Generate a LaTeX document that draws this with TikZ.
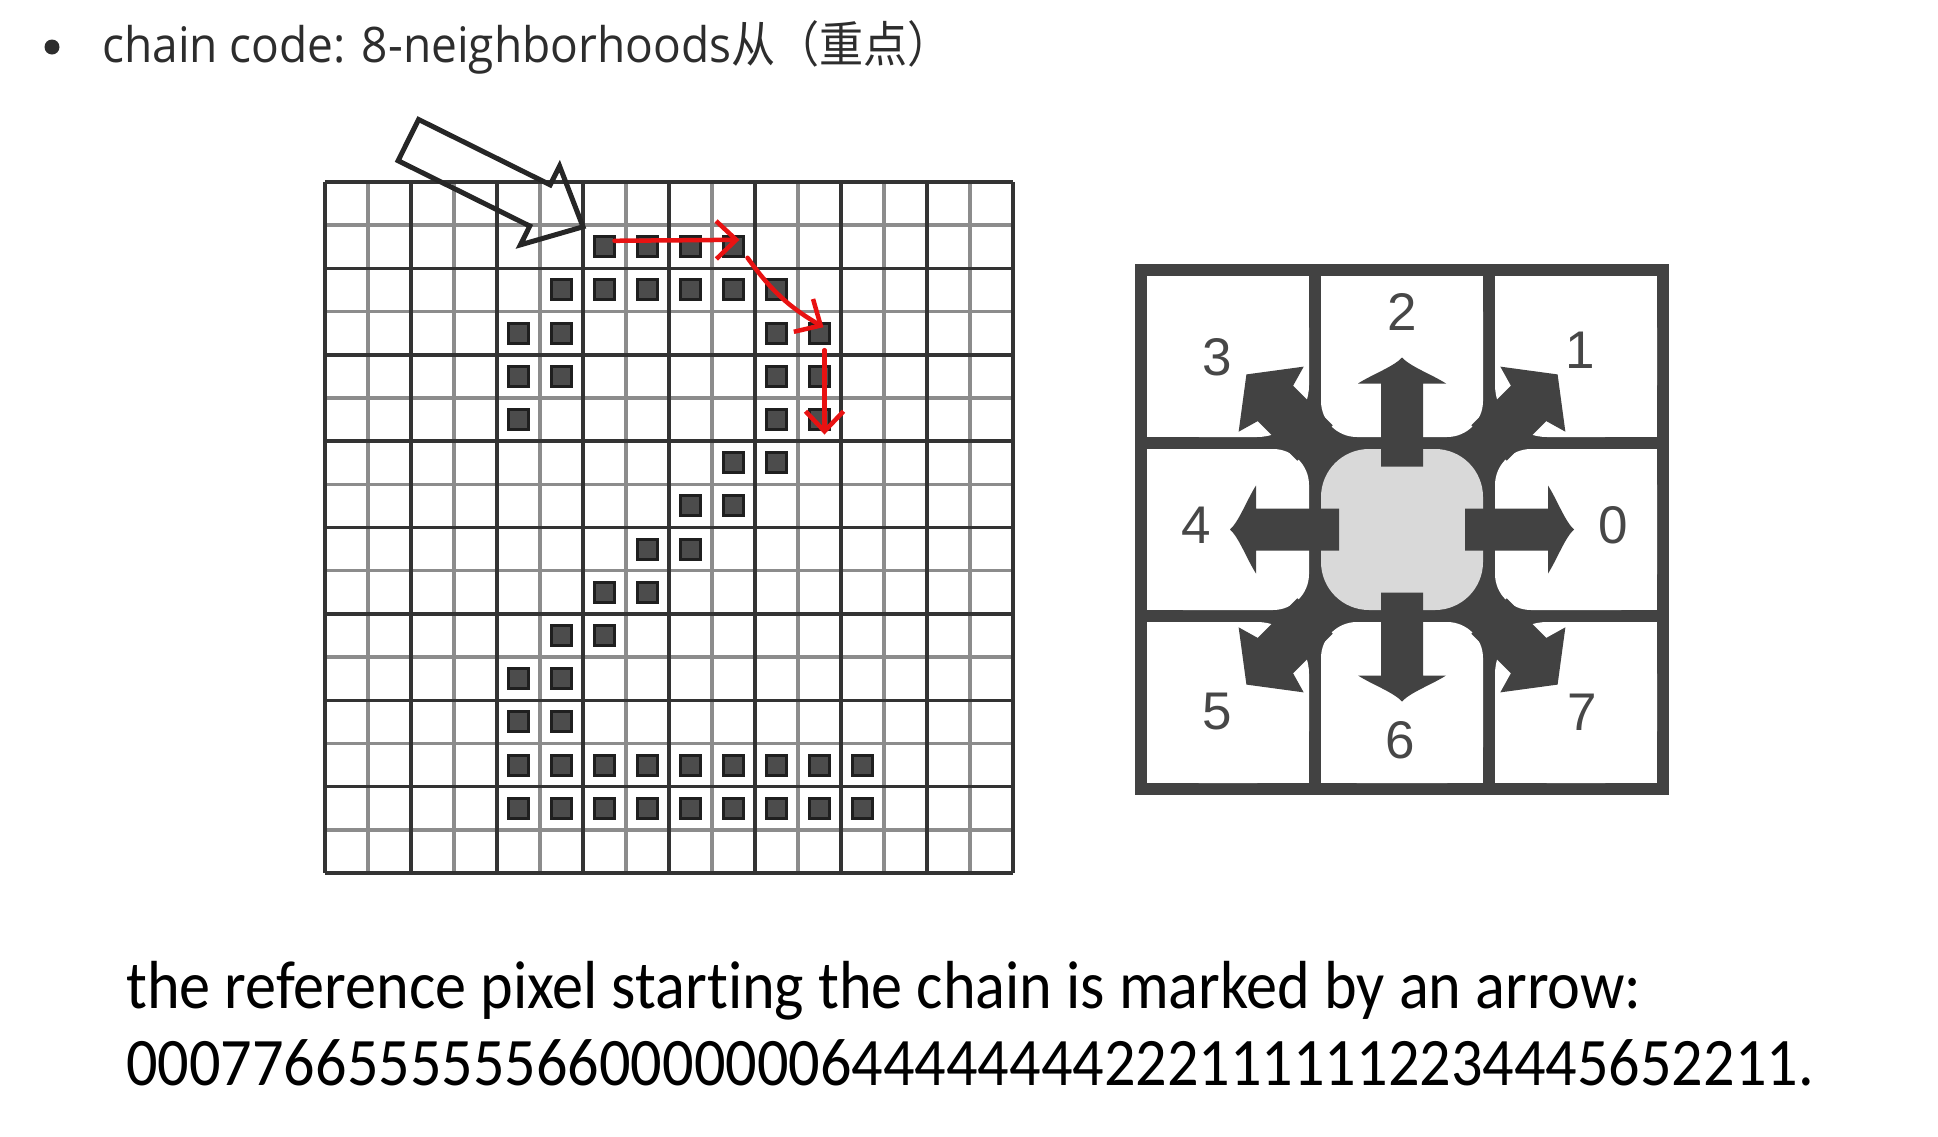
\documentclass[tikz,border=0pt]{standalone}
\usepackage{fontspec}
\newfontfamily\headfont[FakeStretch=0.94]{Open Sans}
\newfontfamily\headcjk[FakeStretch=0.9]{Noto Sans CJK SC}
\newfontfamily\notefont[FakeStretch=0.915, Ligatures=NoCommon]{Carlito}
\newfontfamily\dirfont{Liberation Sans}
\usetikzlibrary{arrows.meta, positioning, calc}
\definecolor{headgray}{RGB}{45, 45, 45}
\definecolor{dirgray}{RGB}{66, 66, 66}
\definecolor{centergray}{RGB}{217, 217, 217}
\definecolor{penred}{RGB}{232, 18, 18}
\tikzset{
    headline/.style={font=\fontsize{49pt}{58pt}\selectfont, text=headgray, inner sep=0pt},
    notetext/.style={font=\notefont\fontsize{68pt}{80pt}\selectfont, text=black, inner sep=0pt},
    gridline/.style={line width=3.5pt, black!80},
    gridfaint/.style={line width=3.5pt, black!45},
    pixel/.style={rectangle, draw=black!88, fill=black!70, line width=3pt, minimum size=20pt, inner sep=0pt},
    startarrow/.style={draw=black!85, line width=5pt, line join=miter},
    redpen/.style={draw=penred, line width=4.5pt, line cap=round, line join=round, -{Straight Barb[length=20pt, width=38pt]}},
    dirline/.style={draw=dirgray, line width=12pt},
    dirlabel/.style={font=\dirfont\fontsize{53pt}{60pt}\selectfont, text=black!72, inner sep=0pt}
}
\def\gridleft{325}
\def\gridtop{182}
\def\gridright{1013}
\def\gridbottom{873}
\def\cellw{43}
\def\cellh{43.19}

\begin{document}
\begin{tikzpicture}[x=1pt, y=-1pt]
    \useasboundingbox (0,0) rectangle (1938,1136);

    % heading
    \fill[headgray] (52,47) circle[radius=7.5pt];
    \node[headline, anchor=base west] (heading) at (102,62) {{\headfont chain code: 8-neighborhoods}{\headcjk 从（重点）}};

    % pixel grid
    \foreach \i in {1,3,...,15} {
        \draw[gridfaint] ({\gridleft+\cellw*\i},\gridtop) -- ({\gridleft+\cellw*\i},\gridbottom);
        \draw[gridfaint] (\gridleft,{\gridtop+\cellh*\i}) -- (\gridright,{\gridtop+\cellh*\i});
    }
    \foreach \i in {0,2,...,16} {
        \draw[gridline] ({\gridleft+\cellw*\i},\gridtop) -- ({\gridleft+\cellw*\i},\gridbottom);
        \draw[gridline] (\gridleft,{\gridtop+\cellh*\i}) -- (\gridright,{\gridtop+\cellh*\i});
    }

    % object pixels
    \foreach \r/\cols in {1/{6,...,9}, 2/{5,...,10}, 3/{4,5,10,11}, 4/{4,5,10,11}, 5/{4,10,11}, 6/{9,10}, 7/{8,9}, 8/{7,8}, 9/{6,7}, 10/{5,6}, 11/{4,5}, 12/{4,5}, 13/{4,...,12}, 14/{4,...,12}}
        \foreach \c in \cols
            \node[pixel] (px-\r-\c) at ({\gridleft+\cellw*(\c+0.5)}, {\gridtop+\cellh*(\r+0.5)}) {};

    % reference pixel marker
    \begin{scope}[shift={([xshift=-10pt, yshift=8.5pt]px-1-6.north west)}, rotate=-26.4]
        \draw[startarrow] (-195,-23) -- (-48,-23) -- (-48,-44) -- (0,0) -- (-48,44) -- (-48,23) -- (-195,23) -- cycle;
    \end{scope}

    % red pen
    \draw[redpen] ([shift={(10,-6)}]px-1-6.center) -- ([shift={(6,-7)}]px-1-9.center);
    \draw[redpen] ([shift={(14,11)}]px-1-9.center) to[bend right=12] ([shift={(4,-6)}]px-3-11.center);
    \draw[redpen] ([shift={(5,17)}]px-3-11.center) -- ([shift={(5,15)}]px-5-11.center);

    % direction box
    \draw[dirline] (1141,270) rectangle (1663,789);
    \foreach \i in {1,2} {
        \draw[dirline] ({1141+174*\i},270) -- ({1141+174*\i},789);
        \draw[dirline] (1141,{270+173*\i}) -- (1663,{270+173*\i});
    }
    \foreach \i in {1,2}
        \foreach \j in {1,2}
            \fill[dirgray] ({1141+174*\i-60},{270+173*\j-60}) rectangle ++(120,120);
    \foreach \i/\j/\cellcol/\rad in {0/0/white/52, 1/0/white/36, 2/0/white/52, 0/1/white/36, 1/1/centergray/48, 2/1/white/36, 0/2/white/52, 1/2/white/36, 2/2/white/52}
        \fill[\cellcol, rounded corners=\rad pt] ({1141+174*\i+6},{270+173*\j+6}) rectangle ({1141+174*(\i+1)-6},{270+173*(\j+1)-6});

    % diagonal directions
    \foreach \i/\j/\ang in {1/1/135, 2/1/45, 1/2/225, 2/2/315} {
        \begin{scope}[shift={({1141+174*\i},{270+173*\j})}, rotate=\ang]
            \fill[dirgray] (0,-25) -- (56,-25) -- (62,-46) -- (97,0) -- (62,46) -- (56,25) -- (0,25) -- cycle;
        \end{scope}
    }

    % straight directions
    \coordinate (dircentre) at (1402,529.5);
    \foreach \ang in {0,90,180,270} {
        \begin{scope}[shift={(dircentre)}, rotate=\ang]
            \fill[dirgray] (63,-21) -- (146,-21) -- (146,-44) .. controls (155,-30) and (163,-8) .. (172,0) .. controls (163,8) and (155,30) .. (146,44) -- (146,21) -- (63,21) -- cycle;
        \end{scope}
    }

    \node[dirlabel] (dir0) at (1613,525) {0};
    \node[dirlabel] (dir1) at (1580,350) {1};
    \node[dirlabel] (dir2) at (1402,312) {2};
    \node[dirlabel] (dir3) at (1217,357) {3};
    \node[dirlabel] (dir4) at (1196,525) {4};
    \node[dirlabel] (dir5) at (1217,712) {5};
    \node[dirlabel] (dir6) at (1400,740) {6};
    \node[dirlabel] (dir7) at (1582,712) {7};

    % caption lines
    \node[notetext, anchor=base west] (note) at (126,1008) {the reference pixel starting the chain is marked by an arrow:};
    \node[notetext, anchor=base west] (code) at (126,1085) {00077665555556600000006444444442221111112234445652211.};
\end{tikzpicture}
\end{document}
